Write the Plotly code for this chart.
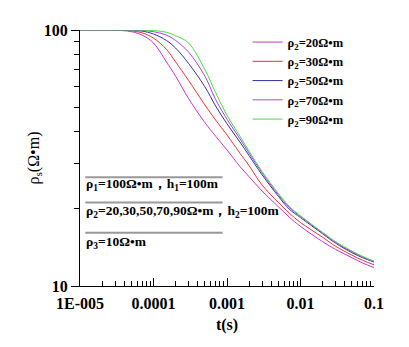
import plotly.graph_objects as go

# time axis (s)
t = [1e-5, 2e-5, 3e-5, 5e-5, 7e-5, 1e-4, 1.5e-4, 2e-4, 3e-4, 5e-4, 7e-4, 1e-3,
     1.5e-3, 2e-3, 3e-3, 5e-3, 7e-3, 1e-2, 2e-2, 3e-2, 5e-2, 7e-2, 1e-1]

# apparent resistivity for each rho2
rho_20 = [100, 100, 99.8, 98.5, 95.5, 89, 75, 66, 54, 43.5, 38.5, 34.0,
          29.3, 26.7, 23.5, 20.4, 18.6, 17.1, 14.9, 13.9, 12.9, 12.3, 11.8]
rho_30 = [100, 100, 99.9, 99.2, 97.5, 93, 84, 75, 63.5, 51, 44.5, 38.9,
          33, 29.5, 24.8, 21.2, 19.3, 17.7, 15.5, 14.3, 13.2, 12.6, 12.1]
rho_50 = [100, 100, 100, 99.7, 99, 96.5, 91, 85, 74, 60, 50.5, 43,
          36.5, 32.3, 27.2, 22.4, 20.0, 18.5, 16.0, 14.7, 13.5, 12.9, 12.4]
rho_70 = [100, 100, 100, 99.9, 99.6, 98.5, 95.5, 91, 82, 66, 53.5, 44.8,
          37.6, 33.0, 27.7, 22.7, 20.3, 18.7, 16.1, 14.8, 13.6, 13.0, 12.45]
rho_90 = [100, 100, 100, 100, 99.9, 99.5, 98, 95, 89, 70, 57, 46.4,
          38.5, 33.6, 28, 23, 20.5, 18.8, 16.2, 14.9, 13.7, 13.05, 12.5]

names = ['ρ<sub>2</sub>=20Ω•m', 'ρ<sub>2</sub>=30Ω•m', 'ρ<sub>2</sub>=50Ω•m',
         'ρ<sub>2</sub>=70Ω•m', 'ρ<sub>2</sub>=90Ω•m']
colors = ['#cc33cc', '#ee3333', '#333399', '#b040e0', '#44dd44']
series = [rho_20, rho_30, rho_50, rho_70, rho_90]

x_ticks = [1e-5, 1e-4, 1e-3, 1e-2, 1e-1]
x_labels = ['1E-005', '0.0001', '0.001', '0.01', '0.1']
x_minor = [m * d for d in [1e-5, 1e-4, 1e-3, 1e-2] for m in range(2, 10)]
y_ticks = [10, 100]
y_minor = [20, 30, 40, 50, 60, 70, 80, 90]

font_family = "'Liberation Serif', 'Times New Roman', 'DejaVu Serif', serif"

fig = go.Figure()
for name, ys, c in zip(names, series, colors):
    fig.add_trace(go.Scatter(
        x = t, y = ys,
        mode = 'lines',
        name = name,
        line = dict(color = c, width = 1, shape = 'spline'),
    ))

fig.update_xaxes(
    type = 'log',
    range = [-5, -1],
    tickvals = x_ticks,
    ticktext = x_labels,
    ticks = 'inside',
    ticklen = 8,
    tickcolor = 'black',
    ticklabelstandoff = 3,
    showline = True,
    linecolor = 'black',
    linewidth = 1,
    showgrid = False,
    zeroline = False,
    minor = dict(tickvals = x_minor, ticks = 'inside', ticklen = 5, tickcolor = 'black', showgrid = False),
    tickfont = dict(family = font_family, size = 16, color = 'black', weight = 'bold'),
    title = dict(text = '<b>t(s)</b>', font = dict(family = font_family, size = 16, color = 'black'), standoff = 7),
)
fig.update_yaxes(
    type = 'log',
    range = [1, 2],
    tickvals = y_ticks,
    ticks = 'outside',
    ticklen = 8,
    tickcolor = 'black',
    showline = True,
    linecolor = 'black',
    linewidth = 1,
    showgrid = False,
    zeroline = False,
    minor = dict(tickvals = y_minor, ticks = 'outside', ticklen = 5, tickcolor = 'black', showgrid = False),
    tickfont = dict(family = font_family, size = 16, color = 'black', weight = 'bold'),
    title = dict(text = 'ρ<sub>s</sub>(Ω•m)', font = dict(family = font_family, size = 16, color = 'black'), standoff = 0),
)

# layer model annotation
labels = [
    '<b>ρ<sub>1</sub>=100Ω•m，h<sub>1</sub>=100m</b>',
    '<b>ρ<sub>2</sub>=20,30,50,70,90Ω•m，h<sub>2</sub>=100m</b>',
    '<b>ρ<sub>3</sub>=10Ω•m</b>',
]
line_y = [0.425, 0.326, 0.208]
text_y = [0.395, 0.29, 0.168]
for ly, ty, lab in zip(line_y, text_y, labels):
    fig.add_shape(type = 'line', xref = 'paper', yref = 'paper',
                  x0 = 0.018, x1 = 0.485, y0 = ly, y1 = ly,
                  line = dict(color = '#999999', width = 2))
    fig.add_annotation(xref = 'paper', yref = 'paper', x = 0.012, y = ty,
                       text = lab, showarrow = False, xanchor = 'left', yanchor = 'middle',
                       font = dict(family = font_family, size = 13.5, color = 'black'))

# the page adds an 8px body margin, so the figure is 8px smaller
fig.update_layout(
    width = 401, height = 339,
    margin = dict(l = 72, r = 35, t = 22, b = 61),
    paper_bgcolor = 'white',
    plot_bgcolor = 'white',
    showlegend = True,
    legend = dict(
        x = 0.57, y = 1.01, xanchor = 'left', yanchor = 'top',
        bgcolor = 'rgba(0,0,0,0)',
        font = dict(family = font_family, size = 12.5, color = 'black', weight = 'bold'),
        tracegroupgap = 0,
        itemwidth = 30,
    ),
)

fig.write_html('out.html')
